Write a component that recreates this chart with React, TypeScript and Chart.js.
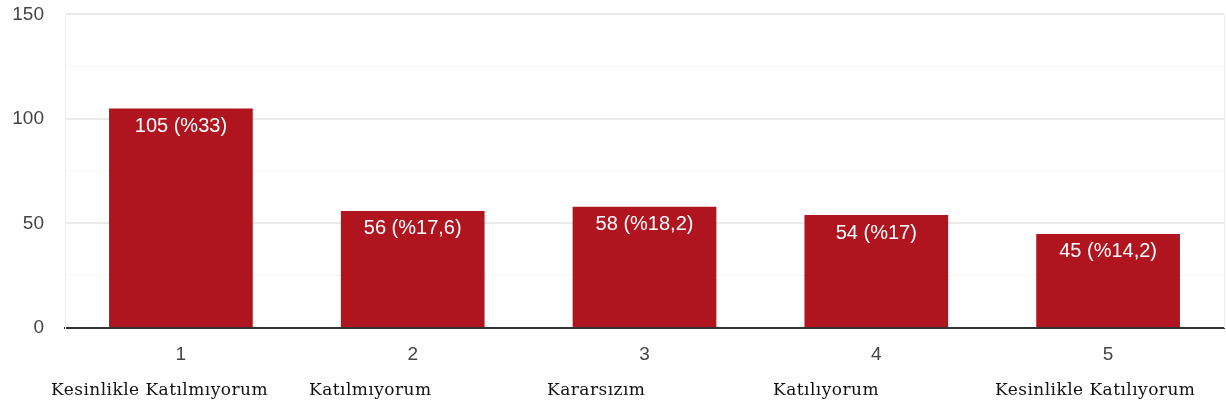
import React, { useEffect, useRef } from "react";
import { Chart, registerables } from "chart.js";

Chart.register(...registerables);

const categories = ["1", "2", "3", "4", "5"];
const counts = [105, 56, 58, 54, 45];
const percents = ["33", "17,6", "18,2", "17", "14,2"];
const answerLabels = [
  "Kesinlikle Katılmıyorum",
  "Katılmıyorum",
  "Kararsızım",
  "Katılıyorum",
  "Kesinlikle Katılıyorum",
];
const answerLeft = [51, 309, 547, 773, 995];
const yMax = 150;
const yStep = 25;

const BAR = "#b0151f";

const barLabelPlugin = {
  id: "barLabels",
  afterDatasetsDraw(chart: any) {
    const ctx = chart.ctx;
    const meta = chart.getDatasetMeta(0);
    ctx.save();
    ctx.fillStyle = "#ffffff";
    ctx.font = "20px 'Liberation Sans', Arial, sans-serif";
    ctx.textAlign = "center";
    ctx.textBaseline = "middle";
    meta.data.forEach((el: any, i: number) => {
      ctx.fillText(`${counts[i]} (%${percents[i]})`, el.x, el.y + 18);
    });
    const a = chart.chartArea;
    ctx.strokeStyle = "#ececec";
    ctx.lineWidth = 1;
    ctx.beginPath();
    ctx.moveTo(a.right + 0.5, a.top);
    ctx.lineTo(a.right + 0.5, a.bottom);
    ctx.stroke();
    ctx.restore();
  },
};

export default function App() {
  const ref = useRef<HTMLCanvasElement>(null);
  useEffect(() => {
    if (!ref.current) return;
    const chart = new Chart(ref.current, {
      type: "bar",
      data: {
        labels: categories,
        datasets: [
          {
            data: counts,
            backgroundColor: BAR,
            borderWidth: 0,
            barPercentage: 0.62,
            categoryPercentage: 1,
          },
        ],
      },
      options: {
        animation: false,
        responsive: false,
        maintainAspectRatio: false,
        layout: { padding: { top: 13, right: 2, bottom: 0, left: 0 } },
        plugins: { legend: { display: false }, tooltip: { enabled: false } },
        scales: {
          x: {
            grid: { display: false },
            border: { color: "#333333", width: 2 },
            ticks: {
              color: "#444444",
              font: { family: "'Liberation Sans', Arial, sans-serif", size: 19 },
              padding: 7,
            },
            afterFit(s: any) {
              s.height = 81;
            },
          },
          y: {
            min: 0,
            max: yMax,
            ticks: {
              stepSize: yStep,
              color: "#444444",
              font: { family: "'Liberation Sans', Arial, sans-serif", size: 19 },
              padding: 21,
              callback: (v: any) => (Number(v) % 50 === 0 ? String(v) : ""),
            },
            grid: {
              color: (c: any) =>
                c.tick && c.tick.value % 50 === 0 ? "#e9e9e9" : "#f5f5f5",
              lineWidth: (c: any) => (c.tick && c.tick.value % 50 === 0 ? 2 : 1),
              drawTicks: false,
            },
            border: { color: "#ececec", width: 1 },
            afterFit(s: any) {
              s.width = 65;
            },
          },
        },
      },
      plugins: [barLabelPlugin],
    });
    return () => chart.destroy();
  }, []);

  return (
    <div style={{ position: "absolute", left: 0, top: 0, width: 1226, height: 409, background: "#fff", overflow: "hidden" }}>
      <canvas ref={ref} width={1226} height={427} style={{ position: "absolute", left: 0, top: -18 }} />
      {answerLabels.map((t, i) => (
        <div
          key={t}
          style={{
            position: "absolute",
            left: answerLeft[i],
            top: 379,
            fontFamily: "'DejaVu Serif', serif",
            fontSize: 17,
            color: "#111",
            whiteSpace: "nowrap",
            letterSpacing: 0.45,
          }}
        >
          {t}
        </div>
      ))}
    </div>
  );
}
